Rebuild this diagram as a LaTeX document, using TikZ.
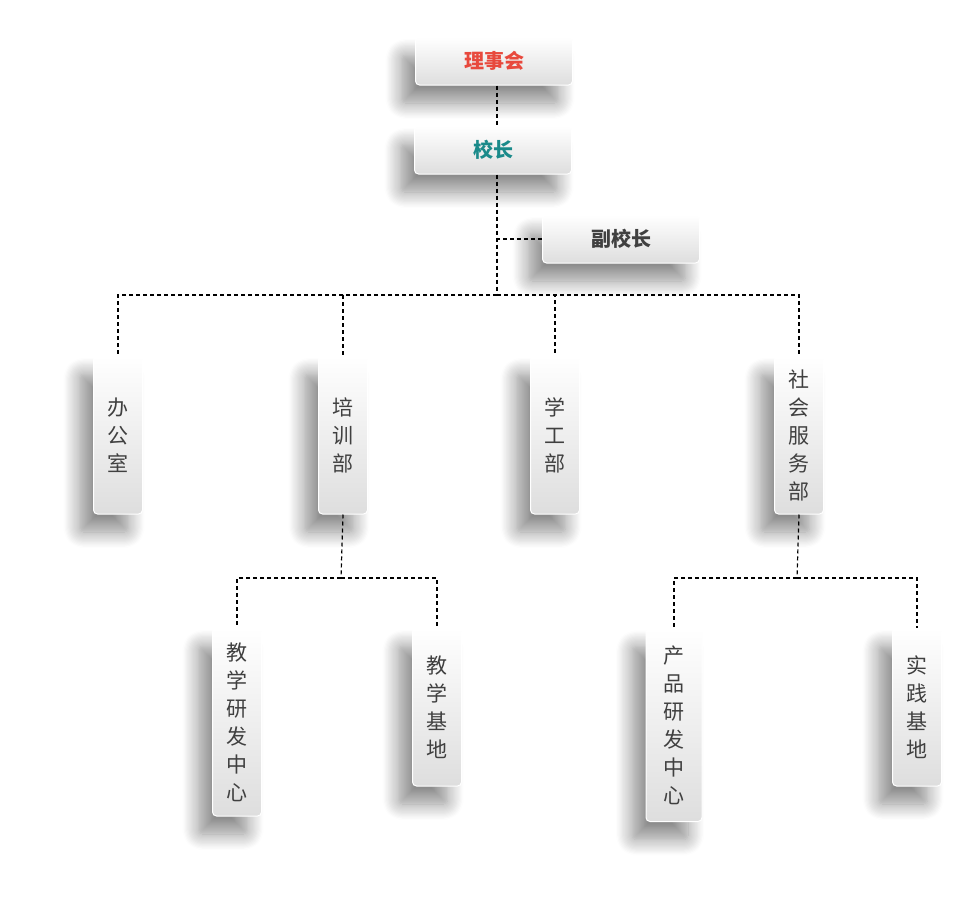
\documentclass[tikz,border=0pt]{standalone}
\usepackage{fontspec}
\setmainfont{Noto Sans CJK SC}
\usetikzlibrary{shadows,shadows.blur,calc}
\begin{document}
\begin{tikzpicture}[x=1pt,y=-1pt,
 box/.style={rounded corners=4pt,draw=white,line width=1pt,top color=white,bottom color=black!13,
   blur shadow={shadow xshift=-14pt,shadow yshift=-18pt,shadow blur steps=14,shadow blur radius=16pt,shadow opacity=45},
   inner sep=0pt,align=center},
 hbox/.style={box,minimum width=157pt,minimum height=48pt,font=\fontsize{20}{24}\selectfont\bfseries},
 vbox/.style={box,minimum width=49pt,text width=49pt,font=\fontsize{21}{28}\selectfont,text=black!75},
 con/.style={line width=1.2pt,dash pattern=on 4pt off 3pt}]
\useasboundingbox (0,0) rectangle (979,916);
\node[hbox,text={rgb,255:red,232;green,73;blue,61}] (lsh) at (494,61) {理事会};
\node[hbox,text={rgb,255:red,26;green,138;blue,138}] (xz) at (493,150) {校长};
\node[hbox,text=black!75] (fxz) at (621,239) {副校长};
\node[vbox,minimum height=158pt] (bgs) at (118,435) {办\\公\\室};
\node[vbox,minimum height=158pt] (pxb) at (343,435) {培\\训\\部};
\node[vbox,minimum height=158pt] (xgb) at (555,435) {学\\工\\部};
\node[vbox,minimum height=158pt] (shb) at (799,435) {社\\会\\服\\务\\部};
\node[vbox,minimum height=188pt] (jxyf) at (237,722) {教\\学\\研\\发\\中\\心};
\node[vbox,minimum height=158pt] (jxjd) at (437,707) {教\\学\\基\\地};
\node[vbox,minimum width=56pt,text width=56pt,minimum height=193pt] (cpyf) at (674,725) {产\\品\\研\\发\\中\\心};
\node[vbox,minimum height=158pt] (sjjd) at (917,707) {实\\践\\基\\地};
\coordinate (bus) at (497,295);
\coordinate (b2) at (341,578);
\coordinate (b3) at (797,578);
\draw[con] (lsh.south -| bus) -- (xz.north -| bus);
\draw[con] (xz.south -| bus) -- (bus);
\draw[con] (fxz.west) -- (fxz.west -| bus);
\draw[con] (bus) -| (bgs.north);
\draw[con] (bus) -| (pxb.north);
\draw[con] (bus) -| (xgb.north);
\draw[con] (bus) -| (shb.north);
\draw[con] (pxb.south) -- (b2);
\draw[con] (b2) -| (jxyf.north);
\draw[con] (b2) -| (jxjd.north);
\draw[con] (shb.south) -- (b3);
\draw[con] (b3) -| (cpyf.north);
\draw[con] (b3) -| (sjjd.north);
\end{tikzpicture}
\end{document}
